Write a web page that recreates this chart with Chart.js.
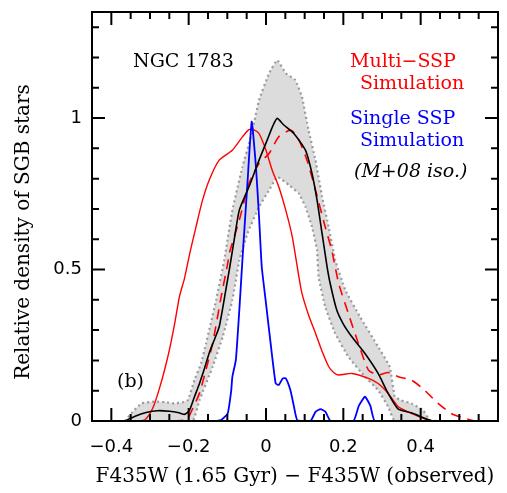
<!DOCTYPE html>
<html>
<head>
<meta charset="utf-8">
<script src="https://cdn.jsdelivr.net/npm/chart.js@4.4.1/dist/chart.umd.min.js"></script>
<style>
  html, body { margin: 0; padding: 0; background: #fff; }
</style>
</head>
<body>
<canvas id="c" width="507" height="493"></canvas>
<script>
// tick labels
const xTicks = [-0.4, -0.2, 0, 0.2, 0.4];
const yTicks = [0, 0.5, 1];

// observed distribution (black)
const obsX = [-0.365, -0.34, -0.31, -0.28, -0.25, -0.225, -0.21, -0.198, -0.185, -0.172, -0.16, -0.147, -0.133, -0.121, -0.104, -0.095, -0.082, -0.069, -0.044, -0.018, 0.003, 0.018, 0.029, 0.046, 0.072, 0.102, 0.119, 0.132, 0.145, 0.158, 0.166, 0.183, 0.2, 0.222, 0.256, 0.29, 0.316, 0.342, 0.376, 0.41, 0.43];
const obsY = [0, 0.015, 0.028, 0.034, 0.032, 0.027, 0.022, 0.035, 0.08, 0.124, 0.17, 0.224, 0.27, 0.311, 0.432, 0.498, 0.6, 0.696, 0.773, 0.861, 0.927, 0.975, 0.999, 0.977, 0.949, 0.894, 0.817, 0.729, 0.619, 0.509, 0.454, 0.366, 0.32, 0.278, 0.223, 0.157, 0.091, 0.039, 0.027, 0.009, 0];

// uncertainty band (upper edge left->right, then lower edge right->left)
const bandX = [-0.365, -0.345, -0.322, -0.288, -0.26, -0.237, -0.215, -0.202, -0.185, -0.168, -0.155, -0.129, -0.108, -0.087, -0.061, -0.039, -0.018, 0.008, 0.029, 0.051, 0.076, 0.093, 0.11, 0.128, 0.145, 0.162, 0.179, 0.205, 0.243, 0.29, 0.32, 0.333, 0.35, 0.376, 0.406, 0.423, 0.44,
               0.333, 0.316, 0.29, 0.256, 0.213, 0.179, 0.153, 0.136, 0.132, 0.119, 0.102, 0.085, 0.059, 0.029, 0.008, -0.018, -0.048, -0.069, -0.087, -0.112, -0.138, -0.172, -0.19, -0.365];
const bandY = [0, 0.03, 0.058, 0.064, 0.062, 0.058, 0.062, 0.069, 0.135, 0.19, 0.256, 0.399, 0.531, 0.696, 0.839, 0.938, 1.059, 1.148, 1.191, 1.148, 1.125, 1.07, 0.96, 0.861, 0.74, 0.641, 0.531, 0.432, 0.344, 0.245, 0.179, 0.08, 0.068, 0.058, 0.036, 0.003, 0,
               0, 0.047, 0.102, 0.146, 0.212, 0.289, 0.377, 0.476, 0.564, 0.641, 0.707, 0.751, 0.779, 0.806, 0.762, 0.707, 0.619, 0.531, 0.399, 0.278, 0.179, 0.069, 0, 0];

// multi-SSP simulation (red solid)
const multiX = [-0.33, -0.314, -0.3, -0.288, -0.275, -0.262, -0.249, -0.235, -0.224, -0.211, -0.196, -0.181, -0.165, -0.147, -0.121, -0.087, -0.061, -0.044, -0.03, -0.018, 0, 0.016, 0.033, 0.051, 0.068, 0.085, 0.093, 0.11, 0.128, 0.145, 0.162, 0.175, 0.188, 0.222, 0.265, 0.29, 0.316, 0.342, 0.376, 0.419, 0.43];
const multiY = [0, 0.003, 0.025, 0.058, 0.11, 0.17, 0.24, 0.33, 0.41, 0.47, 0.56, 0.641, 0.725, 0.795, 0.861, 0.894, 0.938, 0.962, 0.96, 0.949, 0.894, 0.828, 0.773, 0.696, 0.608, 0.476, 0.421, 0.35, 0.29, 0.23, 0.18, 0.16, 0.152, 0.157, 0.141, 0.124, 0.091, 0.047, 0.025, 0.003, 0];

// multi-SSP simulation, shifted (red dashed)
const shiftX = [-0.24, -0.205, -0.19, -0.172, -0.155, -0.138, -0.116, -0.099, -0.095, -0.069, -0.044, -0.018, 0.008, 0.033, 0.063, 0.081, 0.106, 0.128, 0.153, 0.17, 0.188, 0.213, 0.239, 0.265, 0.29, 0.316, 0.342, 0.376, 0.41, 0.445, 0.479, 0.513, 0.54];
const shiftY = [0, 0.005, 0.04, 0.092, 0.17, 0.256, 0.41, 0.52, 0.553, 0.663, 0.784, 0.85, 0.883, 0.938, 0.96, 0.938, 0.861, 0.762, 0.641, 0.564, 0.454, 0.355, 0.256, 0.168, 0.152, 0.16, 0.146, 0.135, 0.102, 0.058, 0.025, 0.009, 0];

// single SSP simulation (blue)
const singleX = [-0.13, -0.116, -0.099, -0.09, -0.087, -0.078, -0.069, -0.061, -0.055, -0.048, -0.037, -0.026, -0.018, -0.011, -0.001, 0.012, 0.025, 0.033, 0.043, 0.051, 0.063, 0.072, 0.081, 0.115, 0.128, 0.141, 0.154, 0.167, 0.226, 0.24, 0.256, 0.27, 0.282, 0.45];
const singleY = [0, 0.003, 0.025, 0.1, 0.146, 0.201, 0.366, 0.531, 0.65, 0.784, 0.988, 0.839, 0.674, 0.509, 0.399, 0.256, 0.124, 0.119, 0.14, 0.141, 0.102, 0.05, 0.003, 0, 0.03, 0.039, 0.03, 0, 0, 0.05, 0.08, 0.05, 0, 0];

const FONT = "'DejaVu Serif', serif";
const TICK_FONT = "'DejaVu Sans', sans-serif";
const pts = (xs, ys) => xs.map((x, i) => ({ x, y: ys[i] }));
const fmt = v => {
  const r = Math.round(v * 100) / 100;
  return r < 0 ? '\u2212' + String(-r) : String(r);
};

// frame with inward ticks on all four sides
const framePlugin = {
  id: 'frame',
  afterDatasetsDraw(chart) {
    const { ctx, chartArea: a, scales: { x, y } } = chart;
    ctx.save();
    ctx.strokeStyle = '#000';
    ctx.lineWidth = 2;
    ctx.strokeRect(a.left, a.top, a.right - a.left, a.bottom - a.top);
    ctx.beginPath();
    for (let i = -9; i <= 11; i++) {
      const v = i * 0.05;
      const px = x.getPixelForValue(v);
      if (px <= a.left + 1 || px >= a.right - 1) continue;
      const len = xTicks.some(t => Math.abs(t - v) < 1e-6) ? 13 : 7;
      ctx.moveTo(px, a.bottom); ctx.lineTo(px, a.bottom - len);
      ctx.moveTo(px, a.top); ctx.lineTo(px, a.top + len);
    }
    for (let i = 1; i <= 13; i++) {
      const v = i * 0.1;
      const py = y.getPixelForValue(v);
      const len = yTicks.some(t => Math.abs(t - v) < 1e-6) ? 13 : 7;
      ctx.moveTo(a.left, py); ctx.lineTo(a.left + len, py);
      ctx.moveTo(a.right, py); ctx.lineTo(a.right - len, py);
    }
    ctx.stroke();
    ctx.restore();
  }
};

const labelPlugin = {
  id: 'labels',
  afterDraw(chart) {
    const { ctx } = chart;
    ctx.save();
    ctx.textBaseline = 'alphabetic';
    ctx.textAlign = 'left';
    ctx.font = '19px ' + FONT;
    ctx.fillStyle = '#000';
    ctx.fillText('NGC 1783', 133, 67);
    ctx.fillText('(b)', 117, 387);
    ctx.fillStyle = '#ff0000';
    ctx.fillText('Multi\u2212SSP', 350, 67);
    ctx.fillText('Simulation', 360, 89);
    ctx.fillStyle = '#0000ff';
    ctx.fillText('Single SSP', 350, 124);
    ctx.fillText('Simulation', 360, 146);
    ctx.fillStyle = '#000';
    ctx.font = 'italic 19px ' + FONT;
    ctx.fillText('(M+08 iso.)', 354, 177);

    // y axis title
    ctx.font = '20px ' + FONT;
    ctx.textAlign = 'center';
    ctx.textBaseline = 'middle';
    ctx.translate(24, 232);
    ctx.rotate(-Math.PI / 2);
    ctx.fillText('Relative density of SGB stars', 0, 0);
    ctx.restore();
  }
};

new Chart(document.getElementById('c'), {
  type: 'scatter',
  data: {
    datasets: [
      { data: pts(obsX, obsY), borderColor: '#000', borderWidth: 1.6, tension: 0.2, order: 1 },
      { data: pts(singleX, singleY), borderColor: '#0000ff', borderWidth: 1.8, tension: 0.15, order: 2 },
      { data: pts(shiftX, shiftY), borderColor: '#ff0000', borderWidth: 1.6, borderDash: [10, 7], tension: 0.2, order: 3 },
      { data: pts(multiX, multiY), borderColor: '#ff0000', borderWidth: 1.4, tension: 0.2, order: 4 },
      { data: pts(bandX, bandY), borderColor: '#9a9a9a', borderWidth: 2.2, borderDash: [2, 3],
        backgroundColor: '#dcdcdc', fill: 'shape', tension: 0.1, order: 5 },
    ],
  },
  options: {
    responsive: false,
    animation: false,
    showLine: true,
    elements: { point: { radius: 0, hoverRadius: 0 } },
    layout: { padding: { top: 12, right: 9, left: 0, bottom: 0 } },
    plugins: { legend: { display: false }, tooltip: { enabled: false } },
    scales: {
      x: {
        type: 'linear',
        min: -0.45,
        max: 0.6,
        afterBuildTicks: s => { s.ticks = xTicks.map(v => ({ value: v })); },
        afterFit: s => { s.height = 72; s.paddingLeft = 0; s.paddingRight = 0; },
        grid: { display: false, drawTicks: false },
        border: { display: false },
        ticks: { color: '#000', font: { family: TICK_FONT, size: 18 }, padding: 16,
                 autoSkip: false, maxRotation: 0, callback: v => fmt(v) },
        title: { display: true, text: 'F435W (1.65 Gyr) \u2212 F435W (observed)', color: '#000',
                 font: { family: FONT, size: 20 }, padding: { top: 0, bottom: 4 } },
      },
      y: {
        type: 'linear',
        min: 0,
        max: 1.35,
        afterBuildTicks: s => { s.ticks = yTicks.map(v => ({ value: v })); },
        afterFit: s => { s.width = 92; s.paddingTop = 0; s.paddingBottom = 0; },
        grid: { display: false, drawTicks: false },
        border: { display: false },
        ticks: { color: '#000', font: { family: TICK_FONT, size: 18 }, padding: 10,
                 callback: v => fmt(v) },
      },
    },
  },
  plugins: [framePlugin, labelPlugin],
});
</script>
</body>
</html>
